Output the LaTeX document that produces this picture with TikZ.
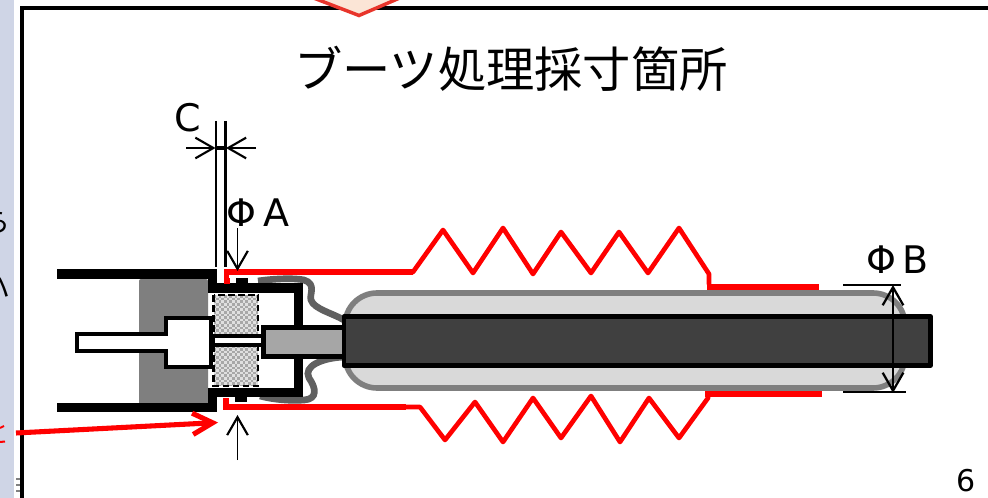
\documentclass[tikz,border=0pt]{standalone}
\usepackage{fontspec}
\setmainfont{DejaVu Sans}
\newfontfamily\jpfont{Noto Sans CJK JP}
\usetikzlibrary{arrows.meta}
\definecolor{stripblue}{HTML}{CFD5E6}
\definecolor{peach}{HTML}{FBE5D6}
\definecolor{capfill}{HTML}{D9D9D9}
\definecolor{capline}{HTML}{7F7F7F}
\definecolor{shaftdark}{HTML}{404040}
\definecolor{rodgray}{HTML}{A6A6A6}
\definecolor{bootgray}{HTML}{606060}
\definecolor{boxred}{HTML}{E8352B}
\definecolor{sealbase}{HTML}{E0E0E0}
\definecolor{sealdot}{HTML}{A8A8A8}
\tikzset{
  x=0.75pt,y=-0.75pt,
  solid black/.style={fill=black,draw=none},
  redline/.style={draw=red,line width=3.9pt,line join=round},
  thinzig/.style={draw=red,line width=3.5pt,line join=round,line cap=round},
  bootline/.style={draw=bootgray,line width=5pt},
  dimline/.style={draw=black,line width=1.25pt},
  dimtip/.style={dimline,-{Straight Barb[length=13.5pt,width=15.5pt,line width=1.6pt]}},
  guideline/.style={draw=black,line width=1.5pt},
  label/.style={inner sep=0pt,font=\fontsize{28.5}{30}\selectfont,text=black},
}
\begin{document}
\begin{tikzpicture}
\useasboundingbox (0,0) rectangle (988,498);
\clip (0,0) rectangle (988,498);
\fill[white] (0,0) rectangle (988,498);
% left strip and frame
\fill[stripblue] (0,0) rectangle (14,498);
\draw[black,line width=3pt] (22,498) -- (22,8.5) -- (988,8.5);
\node[inner sep=0pt,text=black,font=\jpfont\fontsize{21}{24}\selectfont] (fragA) at (-3,222) {ら};
\node[inner sep=0pt,text=black,font=\jpfont\fontsize{21}{24}\selectfont] (fragB) at (-3,288) {ハ};
\draw[red,line width=1.5pt] (0,428) -- (4,426);
\draw[red,line width=1.5pt] (0,442) -- (5,441.5);
\draw[gray,line width=1pt] (16,479) -- (20,479) (16,485) -- (20,485) (16,491) -- (20,491);
% top pentagon marker
\draw[boxred,fill=peach,line width=2.6pt,line join=miter] (311,-3) -- (359,15.5) -- (402,-3);
% title
\node[inner sep=0pt,font=\jpfont\fontsize{36.2}{38}\selectfont] (title) at (511,69) {ブーツ処理採寸箇所};
\node[label] (labC) at (188,118) {C};
\node[label] (labA) at (258,213) {Φ\kern4.6pt A};
\node[label] (labB) at (898,260) {Φ\kern4.6pt B};
\node[inner sep=0pt,font=\fontsize{22.5}{26}\selectfont] (page) at (966,481) {6};
% capsule
\draw[capline,fill=capfill,line width=4.2pt,rounded corners=24pt] (345,293) rectangle (905,388);
% boots
\draw[bootline] (258,281) .. controls (275,278.5) and (295,278) .. (304,280) .. controls (317,284) and (309,295) .. (311,300) .. controls (314,309) and (332,313) .. (344,320);
\draw[bootline] (260,396) .. controls (275,400) and (293,401) .. (304,400) .. controls (318,399) and (316,388) .. (309,378) .. controls (303,366) and (322,358) .. (344,357);
% piston body
\fill[capline,rounded corners=1.5pt] (139,279) rectangle (208,406);
% outer cylinder
\fill[solid black] (57,269) rectangle (217,279);
\fill[solid black] (57,403) rectangle (217,412);
\fill[solid black] (208,269) rectangle (217,284);
\fill[solid black] (208,388) rectangle (217,412);
% inner cup
\fill[solid black] (208,283) rectangle (303,293);
\fill[solid black] (208,388) rectangle (303,397);
\fill[solid black] (294,283) rectangle (303,397);
\fill[solid black] (236,278) rectangle (248,284);
\fill[solid black] (235,396) rectangle (247,402);
\fill[white] (213,293) rectangle (294,388);
% seal (checkered, dashed outline)
\begin{scope}
\clip (213.5,295) rectangle (258,386);
\fill[sealbase] (213.5,295) rectangle (258,386);
\foreach \r in {0,...,34}{
  \foreach \c in {0,...,17}{
    \pgfmathsetmacro{\px}{213.5+\c*5.3+mod(\r,2)*2.65}
    \pgfmathsetmacro{\py}{295+\r*2.65}
    \fill[sealdot] (\px,\py) rectangle ++(2.65,2.65);
  }
}
\end{scope}
\draw[black,line width=2.1pt,dash pattern=on 5pt off 2.5pt] (213.5,295) rectangle (258,386);
% stem and head
\draw[black,fill=white,line width=3.1pt,line join=miter] (77,334) -- (166,334) -- (166,318) -- (211,318) -- (211,367) -- (166,367) -- (166,351) -- (77,351) -- cycle;
% thin rod
\draw[black,fill=white,line width=2.8pt] (213,336) rectangle (263,345);
% gray rod
\draw[black,fill=rodgray,line width=3.1pt] (263.5,327.5) rectangle (345,356.5);
% dark shaft
\draw[black,fill=shaftdark,line width=3.3pt,line join=round] (344,316.5) rectangle (930.5,365.5);
% red boot outline
\draw[redline,line join=miter] (230,281) -- (226.5,281) -- (226.5,272) -- (413,272);
\draw[thinzig] (413,272) -- (443,230) -- (473,273) -- (503,228) -- (533,274) -- (561,232) -- (591,273) -- (619,232) -- (648,273) -- (679,228) -- (709,274) -- (709,284);
\draw[redline] (707,287) -- (819,287);
\draw[redline,line join=miter] (229,401) -- (225.5,401) -- (225.5,407) -- (406,407);
\draw[thinzig] (406,407) -- (420,407) -- (445,440) -- (475,402) -- (503,442) -- (533,398) -- (561,438) -- (591,396) -- (620,442) -- (649,398) -- (679,438) -- (708,398) -- (708,394);
\draw[redline] (705,394) -- (822,394);
% red pointer
\coordinate (ptrS) at (16,433);
\coordinate (ptrE) at (218,422.5);
\draw[draw=red,line width=3.8pt,-{Straight Barb[length=15pt,width=16pt,line width=3.8pt]}] (ptrS) -- (ptrE);
% C dimension
\draw[black,line width=1.5pt] (216,121) -- (216,267);
\draw[black,line width=2.4pt] (225.5,121) -- (225.5,267);
\draw[black,line width=2.4pt] (216,148) -- (225.5,148);
\coordinate (cL) at (186,148);
\coordinate (cLe) at (215.5,148);
\coordinate (cR) at (256,148);
\coordinate (cRe) at (226,148);
\draw[dimtip] (cL) -- (cLe);
\draw[dimtip] (cR) -- (cRe);
% phi A
\coordinate (aT) at (237.5,228);
\coordinate (aTe) at (237.5,271);
\coordinate (aB) at (237.5,460);
\coordinate (aBe) at (237.5,415);
\draw[dimtip] (aT) -- (aTe);
\draw[dimtip] (aB) -- (aBe);
% phi B
\draw[guideline] (843,285) -- (901,285);
\draw[guideline] (843,392) -- (906,392);
\coordinate (bT) at (893,285);
\coordinate (bB) at (893,393);
\draw[dimline,line width=1.6pt,{Straight Barb[length=13.5pt,width=15.5pt,line width=1.7pt]}-{Straight Barb[length=13.5pt,width=15.5pt,line width=1.7pt]}] (bT) -- (bB);
\end{tikzpicture}
\end{document}
